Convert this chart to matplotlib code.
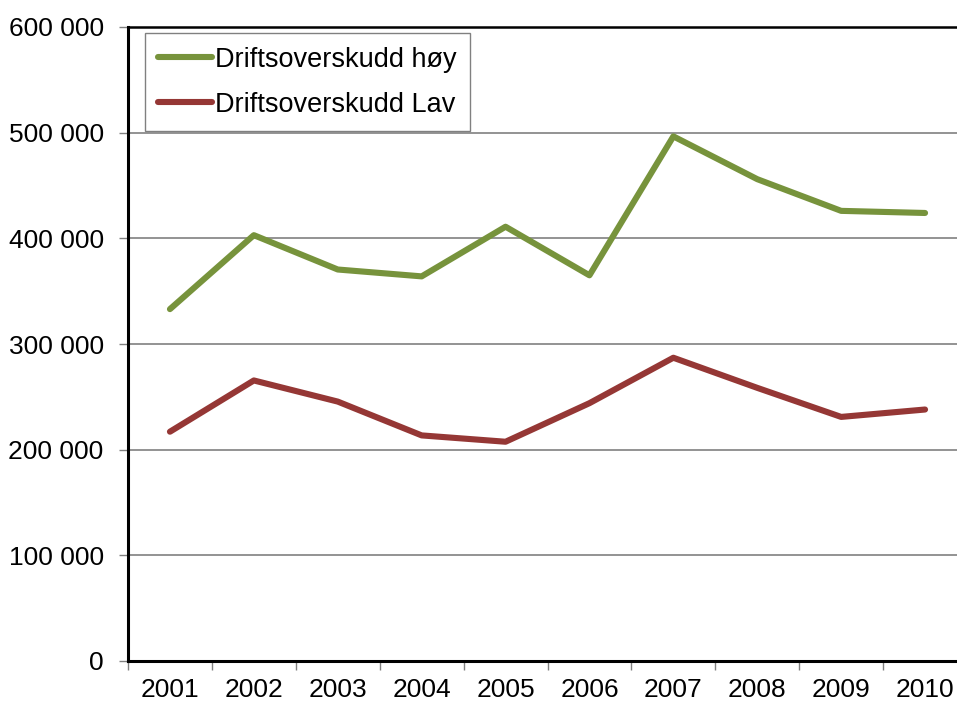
import numpy as np
import matplotlib.pyplot as plt
from matplotlib.ticker import FuncFormatter

years = ["2001", "2002", "2003", "2004", "2005", "2006", "2007", "2008", "2009", "2010"]
hoy = [333000, 403000, 370500, 364000, 411000, 365000, 496500, 456000, 426000, 424000]
lav = [217000, 265500, 245500, 213500, 207500, 244000, 287000, 258500, 231000, 238000]

plt.rcParams.update({"font.family": ["Liberation Sans", "DejaVu Sans"], "font.size": 19})

fig = plt.figure(figsize=(9.57, 7.02), dpi=100)
# plot area runs slightly past the right edge, like the source image
ax = fig.add_axes([128 / 957, 41 / 702, 839 / 957, 634 / 702])

x = np.arange(len(years))
ax.plot(x, hoy, color="#77933C", lw=4.4, solid_capstyle="round", label="Driftsoverskudd høy")
ax.plot(x, lav, color="#953735", lw=4.4, solid_capstyle="round", label="Driftsoverskudd Lav")

ax.set_xlim(-0.5, len(years) - 0.5)
ax.set_ylim(0, 600000)
ax.set_yticks(np.arange(0, 600001, 100000))
ax.yaxis.set_major_formatter(FuncFormatter(lambda v, p: f"{int(v):,}".replace(",", " ")))
ax.grid(axis="y", color="#808080", lw=1.2)
ax.set_axisbelow(True)

ax.set_xticks(x)
ax.set_xticklabels(years)
ax.set_xticks(np.arange(-0.5, len(years), 1), minor=True)
ax.tick_params(axis="x", which="major", length=0, pad=12)
ax.tick_params(axis="x", which="minor", length=6.5, color="#808080", width=1)
ax.tick_params(axis="y", length=6.5, color="#808080", width=1, pad=11)

for s in ["left", "bottom"]:
    ax.spines[s].set_linewidth(2.2)
    ax.spines[s].set_color("black")
ax.spines["top"].set_linewidth(1.8)
ax.spines["top"].set_color("black")
ax.spines["right"].set_visible(False)

leg = ax.legend(loc="upper left", bbox_to_anchor=(0.02, 0.99), fancybox=False, fontsize=19.5,
                edgecolor="#808080", framealpha=1, handlelength=2.0, handletextpad=0.1,
                borderpad=0.5, labelspacing=0.7, borderaxespad=0.0)
leg.get_frame().set_linewidth(1)

fig.savefig("out.png", dpi=100)
